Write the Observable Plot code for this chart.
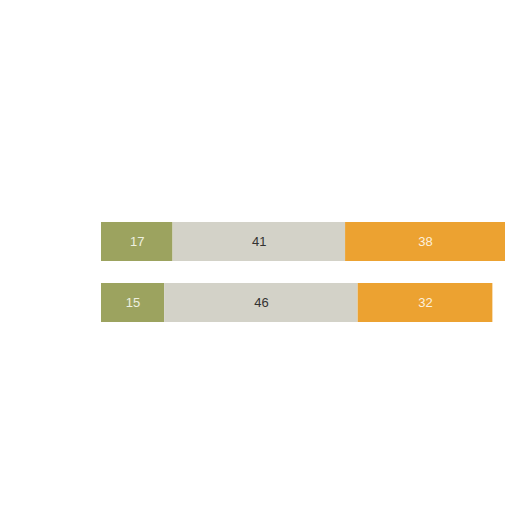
<!DOCTYPE html>
<html>
<head>
<meta charset="utf-8">
<script src="https://cdn.jsdelivr.net/npm/d3@7"></script>
<script src="https://cdn.jsdelivr.net/npm/@observablehq/plot@0.6"></script>
<style>
  html, body { margin: 0; padding: 0; background: #fff; }
</style>
</head>
<body>
<div id="chart"></div>
<script>
const rows = ["A", "B"];
const categories = ["first", "middle", "last"];
const firstValues = [17, 15];
const middleValues = [41, 46];
const lastValues = [38, 32];

const data = [];
rows.forEach((r, i) => {
  const vals = [firstValues[i], middleValues[i], lastValues[i]];
  let x = 0;
  vals.forEach((v, j) => {
    data.push({row: r, cat: categories[j], value: v, x1: x, x2: x + v});
    x += v;
  });
});

const colorMap = {first: "#9ca35f", middle: "#d3d2c8", last: "#eca231"};
const textMap = {first: "#eef0e0", middle: "#333333", last: "#fdf0dc"};

const chart = Plot.plot({
  width: 512,
  height: 512,
  marginLeft: 101,
  marginRight: 7,
  marginTop: 200,
  marginBottom: 168,
  x: {domain: [0, 96], axis: null},
  y: {domain: rows, axis: null, padding: 0.36},
  style: {fontFamily: "Liberation Sans, Arial, sans-serif", background: "#fff"},
  marks: [
    Plot.barX(data, {x1: "x1", x2: "x2", y: "row", fill: d => colorMap[d.cat]}),
    Plot.text(data, {
      x: d => (d.x1 + d.x2) / 2,
      y: "row",
      text: d => String(d.value),
      fill: d => textMap[d.cat],
      fontSize: 13
    })
  ]
});
document.getElementById("chart").appendChild(chart);
</script>
</body>
</html>
